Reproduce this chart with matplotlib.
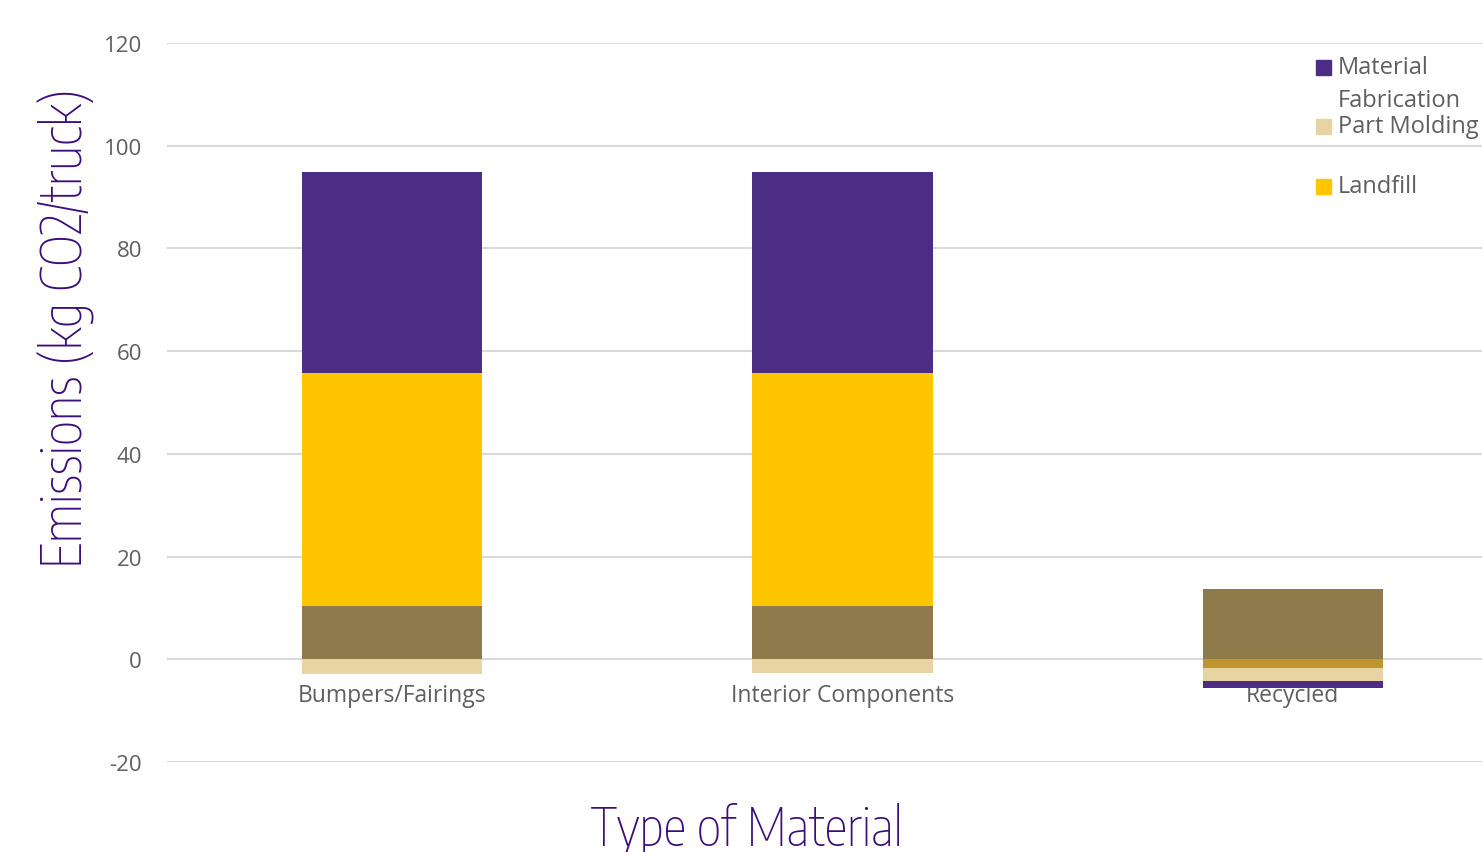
import matplotlib
matplotlib.use("Agg")
import matplotlib.pyplot as plt
from matplotlib import font_manager
from matplotlib.patches import Rectangle
from matplotlib.transforms import offset_copy
import numpy as np

categories = ["Bumpers/Fairings", "Interior Components", "Recycled"]
material_fabrication = [39.1, 39.1, -1.2]
part_molding = [-2.9, -2.6, -2.7]
landfill = [45.5, 45.5, 0.0]
series_brown = [10.3, 10.3, 13.6]
series_gold = [0.0, 0.0, -1.6]
y_ticks = [-20, 0, 20, 40, 60, 80, 100, 120]

PURPLE = "#4B2E83"
BEIGE = "#E8D4A2"
YELLOW = "#FFC600"
BROWN = "#8F7A4C"
GOLD = "#C0942F"
TEXT_GRAY = "#5F5F5F"
LABEL_PURPLE = "#3B0E7A"

installed = {f.name for f in font_manager.fontManager.ttflist}


def pick(cands):
    return [c for c in cands if c in installed] + ["DejaVu Sans"]


BODY = pick(["Open Sans"])
TITLE = pick(["Uni Sans", "Encode Sans Condensed", "Saira Semi Condensed",
              "Barlow Semi Condensed", "Liberation Sans Narrow"])[:1] + ["DejaVu Sans"]

W, H = 1482, 853
fig = plt.figure(figsize=(W / 100, H / 100), dpi=100)
ax = fig.add_axes([167 / W, 90 / H, 1 - 167 / W, (763 - 44) / H])

x = np.arange(len(categories))
width = 0.4

# positive parts stack upward, negative parts stack downward
stack_order = [
    (series_brown, BROWN),
    (series_gold, GOLD),
    (landfill, YELLOW),
    (part_molding, BEIGE),
    (material_fabrication, PURPLE),
]
pos_base = np.zeros(len(categories))
neg_base = np.zeros(len(categories))
for values, color in stack_order:
    v = np.array(values, dtype=float)
    pos = np.where(v > 0, v, 0)
    neg = np.where(v < 0, v, 0)
    ax.bar(x, pos, width, bottom=pos_base, color=color, zorder=3, linewidth=0)
    ax.bar(x, neg, width, bottom=neg_base, color=color, zorder=3, linewidth=0)
    pos_base += pos
    neg_base += neg

ax.set_xlim(-0.5, 2.42)
ax.set_ylim(-20, 120)
ax.set_yticks(y_ticks)
ax.set_yticklabels([str(t) for t in y_ticks])
ax.set_xticks([])
ax.grid(axis="y", color="#D9D9D9", linewidth=1.5, zorder=0)
ax.set_axisbelow(True)
for s in ax.spines.values():
    s.set_visible(False)
ax.tick_params(axis="y", length=0, colors=TEXT_GRAY, labelsize=16, pad=18)
for lbl in ax.get_yticklabels():
    lbl.set_fontfamily(BODY)

# category labels sit just under the zero line
label_tr = offset_copy(ax.transData, fig=fig, x=0, y=-36, units="dots")
for xi, name in zip(x, categories):
    ax.text(xi, 0, name, transform=label_tr, ha="center", va="center",
            fontsize=16.5, color=TEXT_GRAY, family=BODY, zorder=2)

fig.text(747 / W, 1 - 831 / H, "Type of Material", ha="center", va="center",
         fontsize=38, color=LABEL_PURPLE, family=TITLE, fontweight="light")
fig.text(67 / W, 1 - 328 / H, "Emissions (kg CO2/truck)", ha="center", va="center",
         rotation=90, fontsize=39, color=LABEL_PURPLE, family=TITLE, fontweight="light")

# legend drawn in figure pixels
legend_items = [
    (PURPLE, ["Material", "Fabrication"], 68),
    (BEIGE, ["Part Molding"], 127),
    (YELLOW, ["Landfill"], 187),
]
for color, lines, yc in legend_items:
    fig.patches.append(Rectangle((1316 / W, 1 - (yc + 7.5) / H), 15 / W, 15 / H,
                                 transform=fig.transFigure, color=color))
    for i, line in enumerate(lines):
        fig.text(1338 / W, 1 - (yc + 33 * i) / H, line, ha="left", va="center",
                 fontsize=17, color=TEXT_GRAY, family=BODY)

fig.savefig("out.png", dpi=100)
